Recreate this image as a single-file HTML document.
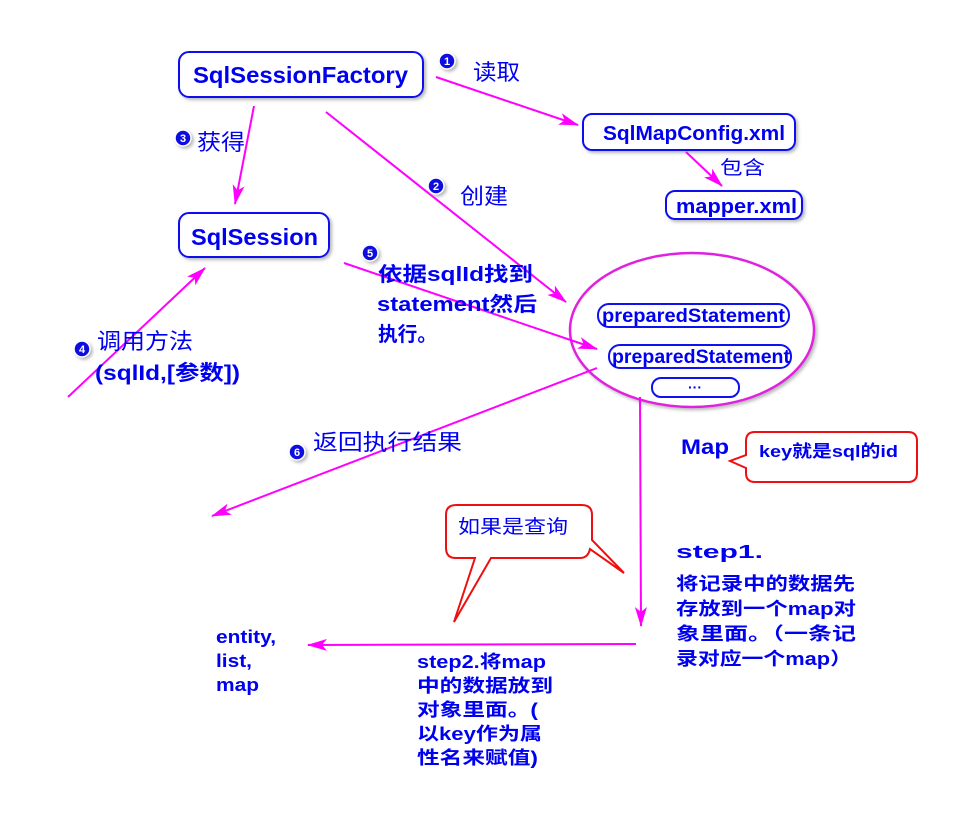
<!DOCTYPE html>
<html><head><meta charset="utf-8"><style>
body{margin:0;background:#fff}
svg{display:block}
text{font-family:"Liberation Sans","Noto Sans CJK SC",sans-serif;fill:#0000f0;font-weight:bold}
.z{font-weight:normal}
</style></head><body>
<svg width="974" height="828" viewBox="0 0 974 828" xmlns="http://www.w3.org/2000/svg">
<defs>
<marker id="a" viewBox="0 0 20 12" refX="19" refY="6" markerWidth="20" markerHeight="12" markerUnits="userSpaceOnUse" orient="auto">
<path d="M0,0 L20,6 L0,12 L5,6 Z" fill="#ff00ff"/></marker>
<filter id="s" x="-10%" y="-10%" width="130%" height="140%"><feDropShadow dx="2" dy="2" stdDeviation="1.5" flood-color="#999" flood-opacity="0.7"/></filter>
</defs>
<g fill="#fff" stroke="#1010f0" stroke-width="2" filter="url(#s)">
<rect x="179" y="52" width="244" height="45" rx="10"/>
<rect x="583" y="114" width="212" height="36" rx="9"/>
<rect x="666" y="191" width="136" height="28" rx="9"/>
<rect x="179" y="213" width="150" height="44" rx="10"/>
</g>
<ellipse cx="692" cy="330" rx="122" ry="77" fill="#fff" stroke="#e020e0" stroke-width="2.5" filter="url(#s)"/>
<g fill="#fff" stroke="#1010f0" stroke-width="2">
<rect x="598" y="304" width="191" height="23" rx="11"/>
<rect x="609" y="345" width="182" height="23" rx="11"/>
<rect x="652" y="378" width="87" height="19" rx="9"/>
</g>
<g lengthAdjust="spacingAndGlyphs">
<text x="193" y="83" font-size="23" textLength="215" lengthAdjust="spacingAndGlyphs">SqlSessionFactory</text>
<text x="603" y="140" font-size="20" textLength="182" lengthAdjust="spacingAndGlyphs">SqlMapConfig.xml</text>
<text x="676" y="213" font-size="20" textLength="121" lengthAdjust="spacingAndGlyphs">mapper.xml</text>
<text x="191" y="245" font-size="23" textLength="127" lengthAdjust="spacingAndGlyphs">SqlSession</text>
<text x="602" y="322" font-size="19" textLength="183" lengthAdjust="spacingAndGlyphs">preparedStatement</text>
<text x="612" y="363" font-size="19" textLength="178" lengthAdjust="spacingAndGlyphs">preparedStatement</text>
</g>
<text x="695" y="392" font-size="14" text-anchor="middle">···</text>
<g stroke="#ff00ff" stroke-width="2" fill="none">
<line x1="436" y1="77" x2="578" y2="125" marker-end="url(#a)"/>
<line x1="686" y1="152" x2="722" y2="186" marker-end="url(#a)"/>
<line x1="254" y1="106" x2="235" y2="204" marker-end="url(#a)"/>
<line x1="326" y1="112" x2="566" y2="302" marker-end="url(#a)"/>
<line x1="344" y1="263" x2="597" y2="349" marker-end="url(#a)"/>
<line x1="68" y1="397" x2="205" y2="268" marker-end="url(#a)"/>
<line x1="597" y1="368" x2="212" y2="516" marker-end="url(#a)"/>
<line x1="640" y1="397" x2="641" y2="626" marker-end="url(#a)"/>
<line x1="636" y1="644" x2="308" y2="645" marker-end="url(#a)"/>
</g>
<g fill="#1010e0" stroke="#fff" stroke-width="1.5" filter="url(#s)">
<circle cx="447" cy="61" r="8"/><circle cx="436" cy="186" r="8"/>
<circle cx="183" cy="138" r="8"/><circle cx="82" cy="349" r="8"/>
<circle cx="370" cy="253" r="8"/><circle cx="297" cy="452" r="8"/>
</g>
<g font-size="11" text-anchor="middle">
<text x="447" y="65" style="fill:#fff">1</text><text x="436" y="190" style="fill:#fff">2</text>
<text x="183" y="142" style="fill:#fff">3</text><text x="82" y="353" style="fill:#fff">4</text>
<text x="370" y="257" style="fill:#fff">5</text><text x="297" y="456" style="fill:#fff">6</text>
</g>
<text class="z" x="473" y="80" font-size="22" textLength="47" lengthAdjust="spacingAndGlyphs">读取</text>
<text class="z" x="720" y="174" font-size="19" textLength="45" lengthAdjust="spacingAndGlyphs">包含</text>
<text class="z" x="197" y="150" font-size="22" textLength="48" lengthAdjust="spacingAndGlyphs">获得</text>
<text class="z" x="460" y="204" font-size="22" textLength="48" lengthAdjust="spacingAndGlyphs">创建</text>
<text x="378" y="281" font-size="20" textLength="155" lengthAdjust="spacingAndGlyphs">依据sqlId找到</text>
<text x="377" y="311" font-size="20" textLength="160" lengthAdjust="spacingAndGlyphs">statement然后</text>
<text x="378" y="341" font-size="20" textLength="59" lengthAdjust="spacingAndGlyphs">执行。</text>
<text class="z" x="97" y="349" font-size="22" textLength="96" lengthAdjust="spacingAndGlyphs">调用方法</text>
<text x="95" y="380" font-size="21" textLength="145" lengthAdjust="spacingAndGlyphs">(sqlId,[参数])</text>
<text class="z" x="313" y="450" font-size="22" textLength="149" lengthAdjust="spacingAndGlyphs">返回执行结果</text>
<text x="681" y="454" font-size="21" textLength="48" lengthAdjust="spacingAndGlyphs">Map</text>
<path d="M755,432 H908 Q917,432 917,441 V473 Q917,482 908,482 H755 Q746,482 746,473 V468 L730,461 L746,455 V441 Q746,432 755,432 Z" fill="#fff" stroke="#ee1010" stroke-width="2"/>
<text x="759" y="457" font-size="17" textLength="139" lengthAdjust="spacingAndGlyphs">key就是sql的id</text>
<path d="M456,505 H582 Q592,505 592,515 V540 L624,573 L590,549 Q588,558 580,558 H491 L454,622 L475,558 H456 Q446,558 446,548 V515 Q446,505 456,505 Z" fill="#fff" stroke="#ee1010" stroke-width="2"/>
<text class="z" x="458" y="533" font-size="19" textLength="110" lengthAdjust="spacingAndGlyphs">如果是查询</text>
<g font-size="18">
<text x="676" y="558" textLength="87" lengthAdjust="spacingAndGlyphs">step1.</text>
<text x="676" y="590" textLength="179" lengthAdjust="spacingAndGlyphs">将记录中的数据先</text>
<text x="676" y="615" textLength="180" lengthAdjust="spacingAndGlyphs">存放到一个map对</text>
<text x="676" y="640" textLength="180" lengthAdjust="spacingAndGlyphs">象里面。（一条记</text>
<text x="676" y="665" textLength="176" lengthAdjust="spacingAndGlyphs">录对应一个map）</text>
<text x="216" y="643" textLength="60" lengthAdjust="spacingAndGlyphs">entity,</text>
<text x="216" y="667" textLength="36" lengthAdjust="spacingAndGlyphs">list,</text>
<text x="216" y="691" textLength="43" lengthAdjust="spacingAndGlyphs">map</text>
<text x="417" y="668" textLength="129" lengthAdjust="spacingAndGlyphs">step2.将map</text>
<text x="417" y="692" textLength="136" lengthAdjust="spacingAndGlyphs">中的数据放到</text>
<text x="417" y="716" textLength="121" lengthAdjust="spacingAndGlyphs">对象里面。(</text>
<text x="417" y="740" textLength="125" lengthAdjust="spacingAndGlyphs">以key作为属</text>
<text x="417" y="764" textLength="121" lengthAdjust="spacingAndGlyphs">性名来赋值)</text>
</g>
</svg>
</body></html>
